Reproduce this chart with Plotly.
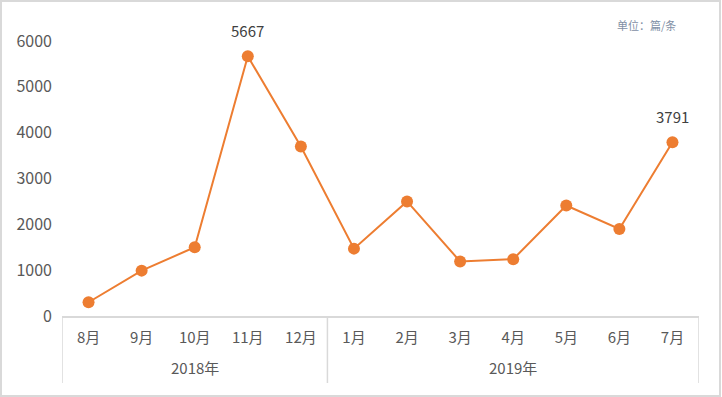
import plotly.graph_objects as go

months = ["8月", "9月", "10月", "11月", "12月", "1月", "2月", "3月", "4月", "5月", "6月", "7月"]
values = [300, 990, 1500, 5667, 3700, 1470, 2500, 1190, 1240, 2410, 1900, 3791]
labeled = [False, False, False, True, False, False, False, False, False, False, False, True]
year_names = ["2018年", "2019年"]
year_first = [0, 5]
year_last = [4, 11]

W, H = 722, 397
ml, mr, mt, mb = 62, 23, 41, 81
pw, ph = W - ml - mr, H - mt - mb

FONT = "Noto Sans CJK SC"
GRID = "#D9D9D9"

fig = go.Figure()
fig.add_trace(go.Scatter(
    x=months, y=values,
    mode="lines+markers",
    line=dict(color="#ED7D31", width=2),
    marker=dict(color="#ED7D31", size=12),
    cliponaxis=False,
    showlegend=False,
))

annotations = [dict(
    text="单位：篇/条", xref="paper", yref="paper",
    x=(678 - ml) / pw, y=1 + (mt - 25) / ph, xanchor="right", yanchor="middle",
    showarrow=False, font=dict(family=FONT, size=11, color="#7F8FA6"),
)]
for m, v, show in zip(months, values, labeled):
    if show:
        annotations.append(dict(
            text=str(v), xref="x", yref="y", x=m, y=v, yshift=26,
            xanchor="center", yanchor="middle", showarrow=False,
            font=dict(family=FONT, size=15, color="#404040"),
        ))
shapes = [dict(
    type="rect", xref="paper", yref="paper",
    x0=(1 - ml) / pw, x1=(720 - ml) / pw,
    y0=-(mb - 1) / ph, y1=1 + (mt - 1) / ph,
    line=dict(color=GRID, width=2), fillcolor="rgba(0,0,0,0)",
)]
for name, a, b in zip(year_names, year_first, year_last):
    annotations.append(dict(
        text=name, xref="x", yref="paper", x=(a + b) / 2, y=-51 / ph,
        xanchor="center", yanchor="middle", showarrow=False,
        font=dict(family=FONT, size=15, color="#595959"),
    ))
dividers = sorted(set([f - 0.5 for f in year_first] + [l + 0.5 for l in year_last]))
for d in dividers:
    shapes.append(dict(
        type="line", xref="x", yref="paper", x0=d, x1=d, y0=0, y1=-67 / ph,
        line=dict(color=GRID, width=1.5),
    ))

fig.update_layout(
    width=W, height=H,
    margin=dict(l=ml, r=mr, t=mt, b=mb, autoexpand=False),
    paper_bgcolor="white", plot_bgcolor="white",
    font=dict(family=FONT, size=15, color="#595959"),
    xaxis=dict(
        type="category", range=[-0.5, 11.5], automargin=False,
        showline=True, linecolor=GRID, linewidth=1.5,
        showgrid=False, ticks="", ticklabelstandoff=7,
        tickfont=dict(family=FONT, size=15, color="#595959"),
    ),
    yaxis=dict(
        range=[0, 6000], dtick=1000, showgrid=False, zeroline=False,
        showline=False, ticks="", automargin=False, ticklabelstandoff=9,
        tickfont=dict(family=FONT, size=16, color="#595959"),
    ),
    annotations=annotations,
    shapes=shapes,
)

fig.write_html(
    "out.html",
    config={"displayModeBar": False},
    post_script="document.body.style.margin='0';document.body.style.overflow='hidden';",
)
